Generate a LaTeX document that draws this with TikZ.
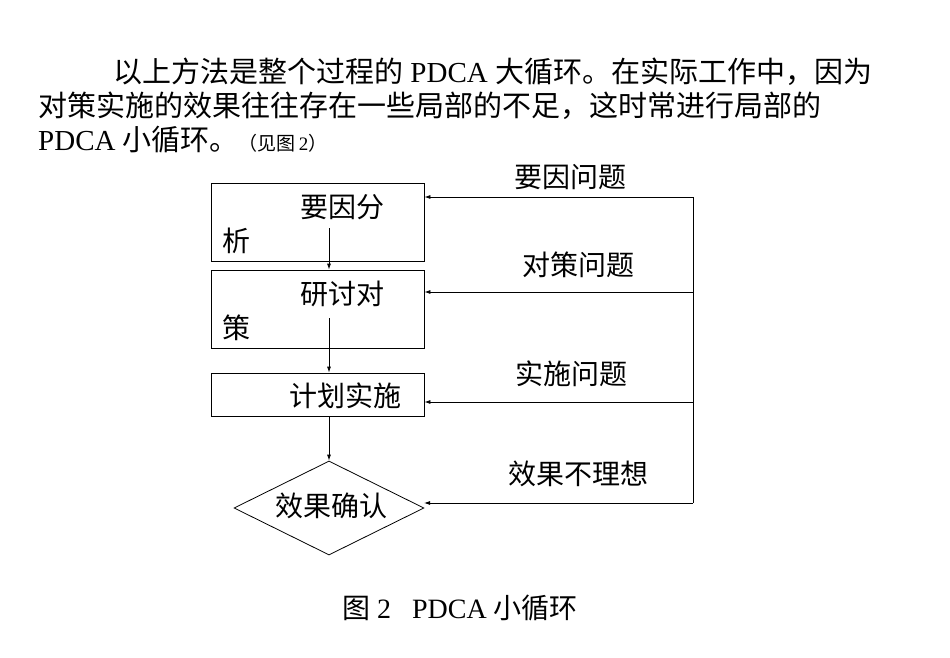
\documentclass[tikz,border=0pt]{standalone}
\usepackage{fontspec}
\setmainfont{Liberation Serif}
\newfontfamily\cjk{Noto Sans CJK SC}
\usetikzlibrary{shapes.geometric,arrows.meta}
\begin{document}
\begin{tikzpicture}[x=1pt,y=-1pt,
  txt/.style={font=\fontsize{28}{28}\selectfont\cjk,inner sep=0pt},
  ptxt/.style={font=\fontsize{29}{29}\selectfont\cjk,inner sep=0pt},
  box/.style={draw,line width=0.8pt,inner sep=0pt},
  arr/.style={line width=0.8pt,-{Latex[length=6pt,width=4pt]}}]
\useasboundingbox (0,0) rectangle (950,658);
% paragraph
\node[ptxt,anchor=west] (p1) at (113,72) {以上方法是整个过程的{\rmfamily\ PDCA }大循环。在实际工作中，因为};
\node[ptxt,anchor=west] (p2) at (38,106) {对策实施的效果往往存在一些局部的不足，这时常进行局部的};
\node[ptxt,anchor=west] (p3) at (38,140) {{\rmfamily PDCA }小循环。{\fontsize{19}{19}\selectfont（见图{\rmfamily\,2}）}};
% boxes
\node[box,minimum width=213pt,minimum height=78pt] (b1) at (317.5,222) {};
\node[txt,anchor=west] (t1a) at (300,207) {要因分};
\node[txt,anchor=west] (t1b) at (222,241) {析};
\node[box,minimum width=213pt,minimum height=78pt] (b2) at (317.5,309) {};
\node[txt,anchor=west] (t2a) at (300,294) {研讨对};
\node[txt,anchor=west] (t2b) at (222,328) {策};
\node[box,minimum width=213pt,minimum height=43pt] (b3) at (317.5,394.5) {};
\node[txt] (t3) at (345,396) {计划实施};
\node[diamond,draw,line width=0.8pt,minimum width=190pt,minimum height=94pt,inner sep=0pt,aspect=2] (d) at (329,508) {};
\node[txt] (t4) at (331,506) {效果确认};
% vertical arrows
\coordinate (s1) at (329,228);
\coordinate (s2) at (329,318);
\draw[arr] (s1) -- (s1 |- b2.north);
\draw[arr] (s2) -- (s2 |- b3.north);
\draw[arr] (b3.south -| d.north) -- (d.north);
% feedback
\coordinate (r1) at (693,197);
\coordinate (r2) at (693,292);
\coordinate (r3) at (693,402);
\coordinate (r4) at (693,503);
\draw[line width=0.8pt] (r1) -- (r4);
\draw[arr] (r1) -- (r1 -| b1.east);
\draw[arr] (r2) -- (r2 -| b2.east);
\draw[arr] (r3) -- (r3 -| b3.east);
\draw[arr] (r4) -- (424,503);
\node[txt] (l1) at (570,177) {要因问题};
\node[txt] (l2) at (578,265) {对策问题};
\node[txt] (l3) at (571,374) {实施问题};
\node[txt] (l4) at (578,474) {效果不理想};
\node[txt] (cap) at (460,608) {图{\rmfamily\ 2\ \ \ PDCA }小循环};
\end{tikzpicture}
\end{document}
